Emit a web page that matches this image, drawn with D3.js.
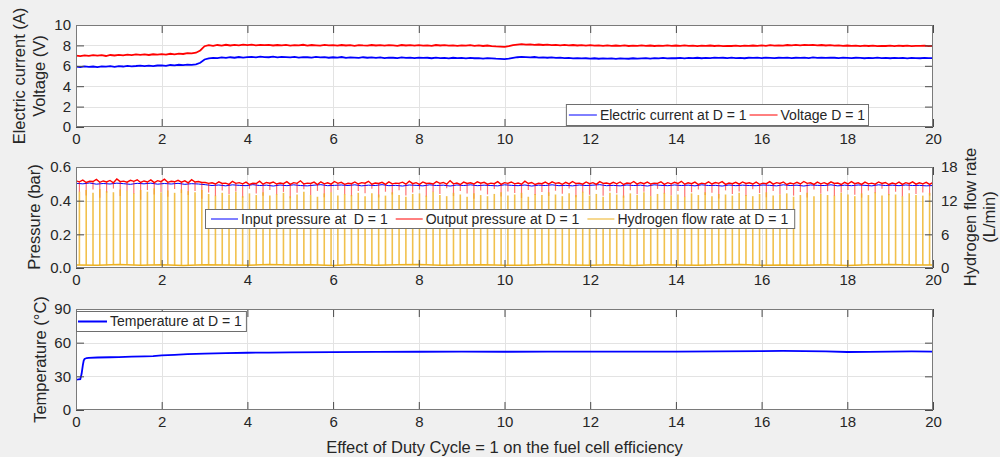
<!DOCTYPE html>
<html><head><meta charset="utf-8">
<script src="https://cdn.jsdelivr.net/npm/d3@7"></script>
<style>
body{margin:0;background:#f0f0f0}
svg{display:block}
text{font-family:"Liberation Sans",Arial,sans-serif;fill:#262626}
</style></head><body>
<svg id="c" width="1000" height="457"></svg>
<script>
// ---------- data ----------
const xTicks = [0,2,4,6,8,10,12,14,16,18,20];
const topTicks = [0,2,4,6,8,10];
const pressureTicks = [0,0.2,0.4,0.6];
const flowTicks = [0,6,12,18];
const tempTicks = [0,30,60,90];

// electric current & voltage, sampled every 0.1 s from 0 to 20 s
const sampleStep = 0.1;
const current = [
5.92,5.88,5.95,5.90,5.93,5.87,5.94,5.91,5.96,5.89,
5.97,5.93,6.00,5.95,5.98,6.02,5.96,6.01,5.97,6.03,
6.05,6.00,6.08,6.04,6.10,6.06,6.12,6.09,6.15,6.30,
6.62,6.72,6.78,6.75,6.82,6.77,6.84,6.79,6.86,6.81,
6.85,6.88,6.83,6.90,6.86,6.84,6.89,6.82,6.87,6.85,
6.83,6.88,6.81,6.86,6.84,6.80,6.87,6.82,6.85,6.79,
6.84,6.80,6.86,6.78,6.83,6.81,6.77,6.84,6.79,6.82,
6.78,6.83,6.76,6.81,6.79,6.75,6.82,6.77,6.80,6.76,
6.81,6.77,6.79,6.74,6.80,6.76,6.78,6.73,6.79,6.75,
6.77,6.72,6.78,6.74,6.76,6.71,6.75,6.73,6.70,6.68,
6.66,6.70,6.78,6.84,6.88,6.85,6.82,6.86,6.80,6.83,
6.79,6.82,6.77,6.80,6.75,6.78,6.73,6.76,6.72,6.74,
6.71,6.74,6.69,6.73,6.70,6.72,6.68,6.73,6.71,6.69,
6.74,6.70,6.73,6.76,6.71,6.75,6.72,6.77,6.73,6.76,
6.74,6.78,6.73,6.77,6.75,6.79,6.74,6.78,6.76,6.80,
6.77,6.79,6.75,6.80,6.76,6.78,6.74,6.79,6.77,6.81,
6.76,6.80,6.78,6.75,6.79,6.77,6.81,6.76,6.79,6.78,
6.80,6.76,6.82,6.78,6.80,6.77,6.81,6.79,6.76,6.80,
6.78,6.75,6.79,6.77,6.74,6.78,6.76,6.80,6.75,6.77,
6.74,6.78,6.75,6.77,6.73,6.78,6.76,6.74,6.77,6.75,6.76];
const voltage = [
7.00,6.95,7.03,6.97,7.05,6.99,7.04,6.96,7.06,7.01,
7.08,7.03,7.10,7.05,7.12,7.07,7.11,7.06,7.13,7.09,
7.14,7.10,7.18,7.13,7.20,7.16,7.24,7.21,7.28,7.50,
7.92,8.02,7.95,8.04,7.98,8.06,7.99,8.05,8.01,8.08,
8.03,8.07,8.00,8.05,8.02,8.06,7.99,8.04,8.01,8.05,
7.98,8.03,8.00,8.06,7.97,8.04,8.01,7.98,8.05,8.00,
8.03,7.97,8.04,7.99,8.02,7.96,8.03,8.00,7.98,8.04,
7.99,8.03,7.97,8.02,8.00,7.96,8.04,7.99,8.02,7.97,
8.03,7.98,8.01,7.96,8.04,7.99,8.02,7.97,8.00,7.95,
8.01,7.97,8.03,7.96,8.00,7.94,7.99,7.93,7.90,7.88,
7.86,7.92,8.02,8.08,8.12,8.07,8.10,8.05,8.09,8.04,
8.07,8.02,8.06,8.01,8.05,8.00,8.04,7.99,8.03,7.98,
8.02,7.97,8.01,7.96,8.00,7.95,7.99,7.96,8.00,7.94,
7.98,7.95,8.00,7.96,7.99,7.94,7.98,7.96,8.01,7.95,
7.99,7.96,8.00,7.95,7.98,7.93,7.97,7.95,7.99,7.94,
7.97,7.92,7.96,7.94,7.98,7.93,7.97,7.95,7.99,7.96,
8.00,7.96,8.02,7.97,8.01,7.98,8.04,8.00,8.05,8.01,
8.06,8.02,8.05,8.00,8.04,7.99,8.02,7.97,8.01,7.96,
7.99,7.95,7.98,7.93,7.97,7.94,7.98,7.92,7.96,7.94,
7.97,7.93,7.98,7.94,7.97,7.92,7.96,7.95,7.98,7.93,7.96];

// pressures: 126 hydrogen pulses over 20 s; between-pulse samples at k*period (127 values)
const pulseCount = 126;
const pressureOutBetween = [
.518,.522,.515,.526,.517,.520,.529,.516,.521,.524,
.517,.523,.519,.528,.515,.521,.518,.525,.514,.508,
.506,.512,.504,.515,.507,.510,.503,.516,.508,.511,
.505,.513,.507,.518,.504,.510,.512,.506,.514,.509,
.503,.511,.507,.515,.505,.509,.512,.504,.510,.516,
.507,.511,.504,.513,.508,.519,.505,.510,.506,.512,
.509,.504,.513,.507,.511,.505,.516,.508,.503,.510,
.512,.506,.509,.514,.504,.511,.507,.513,.505,.509,
.511,.505,.514,.508,.510,.504,.512,.507,.509,.515,
.506,.510,.504,.512,.508,.513,.505,.509,.511,.506,
.510,.504,.513,.507,.511,.505,.509,.514,.506,.510,
.507,.512,.505,.509,.513,.506,.510,.504,.511,.508,
.505,.510,.507,.512,.506,.509,.508];
const pressureOutAtPulse = [
.512,.508,.514,.509,.511,.506,.513,.510,.515,.508,
.511,.507,.513,.509,.512,.510,.506,.511,.508,.503,
.499,.502,.497,.503,.500,.496,.502,.498,.504,.499,
.501,.497,.503,.499,.502,.496,.500,.498,.503,.497,
.501,.499,.504,.498,.502,.497,.500,.503,.498,.501,
.497,.502,.499,.503,.498,.500,.496,.502,.499,.504,
.498,.501,.497,.503,.500,.498,.502,.496,.501,.499,
.503,.497,.500,.502,.498,.501,.497,.503,.499,.500,
.496,.502,.498,.501,.499,.503,.497,.500,.502,.498,
.501,.496,.500,.499,.503,.497,.501,.498,.502,.499,
.497,.501,.498,.502,.496,.500,.499,.503,.497,.500,
.498,.502,.496,.499,.501,.497,.500,.498,.502,.496,
.499,.497,.501,.498,.500,.497];
const pressureOutDip = [
.452,.431,.466,.418,.447,.472,.428,.459,.441,.405,
.463,.437,.451,.424,.469,.445,.433,.458,.412,.448,
.427,.461,.439,.455,.418,.470,.442,.429,.464,.436,
.452,.415,.447,.468,.433,.458,.421,.449,.463,.438,
.426,.457,.444,.471,.419,.453,.436,.462,.430,.448,
.466,.424,.451,.439,.474,.428,.457,.443,.411,.460,
.437,.469,.425,.454,.446,.416,.463,.434,.452,.427,
.459,.441,.472,.420,.448,.435,.465,.429,.456,.444,
.417,.462,.438,.453,.426,.470,.443,.431,.458,.422,
.450,.466,.434,.447,.413,.461,.439,.455,.428,.468,
.445,.421,.457,.436,.464,.430,.452,.419,.466,.441,
.456,.427,.449,.463,.435,.418,.460,.444,.471,.432,
.453,.425,.462,.439,.448,.430];
const pressureIn = [
.503,.500,.505,.498,.502,.499,.504,.501,.497,.503,
.500,.504,.498,.502,.499,.503,.497,.501,.499,.495,
.490,.493,.488,.494,.491,.489,.495,.490,.492,.487,
.493,.489,.494,.490,.488,.492,.495,.489,.491,.493,
.490,.494,.488,.492,.490,.495,.489,.491,.487,.493,
.491,.488,.494,.490,.492,.487,.493,.490,.494,.489,
.492,.490,.488,.494,.491,.489,.493,.487,.492,.490,
.494,.489,.491,.488,.493,.490,.492,.495,.489,.491,
.488,.493,.490,.492,.487,.494,.491,.489,.493,.490,
.492,.488,.494,.490,.491,.487,.493,.489,.492,.490,
.489,.493,.491,.488,.494,.490,.492,.487,.493,.491,
.490,.494,.488,.492,.489,.493,.491,.488,.494,.490,
.492,.489,.493,.490,.491,.488,.490];
// hydrogen flow rate (L/min): pulse peaks and baseline every 0.5 s
const hydrogenPeak = [
13.6,13.9,13.4,14.1,13.7,13.5,14.0,13.8,13.3,13.9,
13.6,14.2,13.5,13.8,13.4,14.0,13.7,13.5,13.9,13.2,
12.9,13.4,13.1,13.6,12.8,13.3,13.0,13.5,12.9,13.2,
13.4,12.8,13.1,13.6,13.0,12.7,13.3,13.5,12.9,13.2,
13.0,13.4,12.8,13.3,13.1,12.9,13.5,13.0,12.7,13.2,
13.3,12.9,13.6,13.0,12.8,13.4,13.1,12.7,13.3,13.0,
12.8,13.2,13.5,12.9,13.1,13.4,12.7,13.2,13.0,13.5,
13.1,12.8,13.3,13.0,13.6,12.9,13.2,12.7,13.4,13.1,
12.9,13.3,13.0,13.5,12.8,13.2,13.4,12.9,13.1,12.7,
13.3,13.0,13.5,12.8,13.2,13.1,12.9,13.4,13.0,12.8,
13.2,13.5,12.9,13.1,13.3,12.7,13.0,13.4,12.8,13.2,
13.0,12.9,13.4,13.1,12.8,13.3,13.0,13.5,12.9,13.2,
13.1,12.8,13.3,13.0,12.9,13.4];
const hydrogenBaseStep = 0.5;
const hydrogenBase = [.55,.48,.62,.51,.58,.45,.60,.53,.49,.64,.52,.57,.46,.61,.50,.56,.63,.48,.54,.59,.51,.47,.62,.55,.50,.58,.45,.60,.53,.49,.57,.62,.48,.55,.51,.59,.46,.56,.61,.52,.54];

// temperature
const tempTimes = [0,0.05,0.1,0.13,0.16,0.18,0.2,0.25,0.3,0.5,0.8,1.0,1.3,1.6,1.8,2.0,2.3,2.6,3.0,3.5,4.0,4.5,5.0,6.0,7.0,8.0,9.0,10.0,11.0,12.0,13.0,14.0,15.0,16.0,16.5,17.0,17.5,18.0,18.5,19.0,19.5,20.0];
const tempValues = [27,27.2,27.5,32,40,44,45.5,46.3,46.5,46.8,47,47.2,47.5,47.8,48,48.6,49.2,49.8,50.3,50.7,51,51.2,51.4,51.6,51.8,51.9,52,51.9,52,52.1,52,52.1,52.2,52.5,52.7,52.5,52.2,51.7,51.8,52,52.2,52.1];

// ---------- drawing ----------
const svg = d3.select('#c');
const L = 76, R = 933;
const x = d3.scaleLinear([0,20],[L,R]);
const TICK_FS = 15, LABEL_FS = 16.5, LEG_FS = 14;
const AX = '#4a4a4a', GRID = '#e3e3e3';

let clipId = 0;
function panel(top, bottom, yDom, yTicks){
  const y = d3.scaleLinear(yDom,[bottom, top]);
  const g = svg.append('g');
  g.append('rect').attr('x',L).attr('y',top).attr('width',R-L).attr('height',bottom-top).attr('fill','#fff');
  g.selectAll('.gx').data(xTicks.slice(1,-1)).join('line')
    .attr('x1',d=>Math.round(x(d))+0.5).attr('x2',d=>Math.round(x(d))+0.5).attr('y1',top).attr('y2',bottom)
    .attr('stroke',GRID);
  g.selectAll('.gy').data(yTicks.slice(1,-1)).join('line')
    .attr('y1',d=>Math.round(y(d))+0.5).attr('y2',d=>Math.round(y(d))+0.5).attr('x1',L).attr('x2',R)
    .attr('stroke',GRID);
  const id = 'clip'+(clipId++);
  svg.append('clipPath').attr('id',id).append('rect').attr('x',L).attr('y',top).attr('width',R-L).attr('height',bottom-top);
  const data = svg.append('g').attr('clip-path',`url(#${id})`);
  return {y, top, bottom, data};
}
function styleAxis(sel){
  sel.select('.domain').remove();
  sel.selectAll('line').attr('stroke',AX);
  sel.selectAll('text').attr('font-size',TICK_FS).attr('font-family','"Liberation Sans",Arial,sans-serif').attr('fill','#262626');
  sel.attr('font-size',null).attr('font-family',null);
}
function frame(p, yTicks, fmt, rightAxis){
  const {y, top, bottom} = p;
  svg.append('g').attr('transform',`translate(0,${bottom})`)
    .call(d3.axisBottom(x).tickValues(xTicks).tickSize(-8).tickPadding(6).tickFormat(d3.format('d'))).call(styleAxis);
  svg.append('g').attr('transform',`translate(0,${top})`)
    .call(d3.axisTop(x).tickValues(xTicks).tickSize(-8).tickFormat('')).call(styleAxis);
  svg.append('g').attr('transform',`translate(${L},0)`)
    .call(d3.axisLeft(y).tickValues(yTicks).tickSize(-8).tickPadding(5).tickFormat(fmt)).call(styleAxis);
  if(rightAxis){
    svg.append('g').attr('transform',`translate(${R},0)`)
      .call(d3.axisRight(rightAxis.scale).tickValues(rightAxis.ticks).tickSize(-8).tickPadding(8).tickFormat(d3.format('d'))).call(styleAxis);
  } else {
    svg.append('g').attr('transform',`translate(${R},0)`)
      .call(d3.axisRight(y).tickValues(yTicks).tickSize(-8).tickFormat('')).call(styleAxis);
  }
  svg.append('rect').attr('x',L+0.5).attr('y',top+0.5).attr('width',R-L-1).attr('height',bottom-top-1)
    .attr('fill','none').attr('stroke','#7a7a7a');
}
function ylabel(text, bx, cy){
  svg.append('text').attr('transform',`translate(${bx},${cy}) rotate(-90)`)
    .attr('text-anchor','middle').attr('font-size',LABEL_FS).text(text);
}
function legend(items, opt){
  const g = svg.append('g');
  const box = g.append('rect').attr('fill','#fff').attr('stroke','#6e6e6e');
  let cx = opt.padL;
  const parts = [];
  items.forEach((it,i)=>{
    const ln = g.append('line').attr('stroke',it.color).attr('stroke-width',it.w||1);
    const t = g.append('text').attr('font-size',LEG_FS).attr('dy','0.35em').text(it.label);
    const tw = t.node().getComputedTextLength();
    parts.push({ln,t,x:cx});
    cx += opt.lineLen + 3 + tw + (i<items.length-1 ? opt.gap : opt.padR);
  });
  const W = cx;
  const x0 = opt.anchor==='right' ? opt.x - W : opt.x;
  const ym = opt.y + opt.h/2;
  box.attr('x',x0+0.5).attr('y',opt.y+0.5).attr('width',W).attr('height',opt.h);
  parts.forEach(p=>{
    p.ln.attr('x1',x0+p.x).attr('x2',x0+p.x+opt.lineLen).attr('y1',ym+0.5).attr('y2',ym+0.5);
    p.t.attr('x',x0+p.x+opt.lineLen+3).attr('y',ym+0.5);
  });
}

// ---- top panel ----
const p1 = panel(25,127,[0,10],topTicks);
const line1 = d3.line().x((d,i)=>x(i*sampleStep)).y(d=>p1.y(d));
p1.data.append('path').attr('d',line1(current)).attr('fill','none').attr('stroke','#0000ff').attr('stroke-width',1.8);
p1.data.append('path').attr('d',line1(voltage)).attr('fill','none').attr('stroke','#ff0000').attr('stroke-width',1.8);
frame(p1, topTicks, d3.format('d'));
legend([{label:'Electric current at D = 1',color:'#0000ff'},{label:'Voltage D = 1',color:'#ff0000'}],
  {anchor:'right',x:868,y:104,h:21,padL:3,padR:3,gap:3,lineLen:28});
ylabel('Electric current (A)',25,76);
ylabel('Voltage (V)',45,76);

// ---- middle panel ----
const p2 = panel(167,268,[0,0.6],pressureTicks);
const yR = d3.scaleLinear([0,18],[268,167]);
const period = 20/pulseCount;
const pulseT = i => (i+0.5)*period;
const inLine = d3.line().x((d,k)=>x(k*period)).y(d=>p2.y(d));
p2.data.append('path').attr('d',inLine(pressureIn)).attr('fill','none').attr('stroke','#0000ff').attr('stroke-width',1);
const outPts = [];
pressureOutBetween.forEach((v,k)=>{
  outPts.push([k*period, v]);
  if(k<pulseCount) outPts.push([pulseT(k), pressureOutAtPulse[k]]);
});
p2.data.append('path').attr('d',d3.line().x(d=>x(d[0])).y(d=>p2.y(d[1]))(outPts))
  .attr('fill','none').attr('stroke','#ff0000').attr('stroke-width',1.4);
p2.data.selectAll('.dip').data(pressureOutDip).join('line')
  .attr('x1',(d,i)=>x(pulseT(i))).attr('x2',(d,i)=>x(pulseT(i)))
  .attr('y1',(d,i)=>p2.y(pressureOutAtPulse[i])).attr('y2',d=>p2.y(d))
  .attr('stroke','#ff0000').attr('stroke-opacity',0.55).attr('stroke-width',1.2);
const baseLine = d3.line().x((d,k)=>x(k*hydrogenBaseStep)).y(d=>yR(d));
p2.data.append('path').attr('d',baseLine(hydrogenBase)).attr('fill','none').attr('stroke','#EDB120').attr('stroke-width',1.5);
p2.data.selectAll('.spike').data(hydrogenPeak).join('line')
  .attr('x1',(d,i)=>x(pulseT(i))).attr('x2',(d,i)=>x(pulseT(i)))
  .attr('y1',(d,i)=>yR(hydrogenBase[Math.round(pulseT(i)/hydrogenBaseStep)]))
  .attr('y2',d=>yR(d))
  .attr('stroke','#EDB120').attr('stroke-opacity',0.8).attr('stroke-width',1.6);
frame(p2, pressureTicks, d3.format('.1f'), {scale:yR, ticks:flowTicks});
legend([{label:'Input pressure at \u00a0D = 1',color:'#0000ff'},{label:'Output pressure at D = 1',color:'#ff0000'},{label:'Hydrogen flow rate at D = 1',color:'#EDB120'}],
  {anchor:'left',x:205,y:209,h:19,padL:6,padR:6,gap:8,lineLen:27});
ylabel('Pressure (bar)',40,217);
ylabel('Hydrogen flow rate',976,217);
ylabel('(L/min)',995,217);

// ---- bottom panel ----
const p3 = panel(309,410,[0,90],tempTicks);
p3.data.append('path').attr('d',d3.line().x((d,i)=>x(tempTimes[i])).y(d=>p3.y(d))(tempValues))
  .attr('fill','none').attr('stroke','#0000ff').attr('stroke-width',1.8);
frame(p3, tempTicks, d3.format('d'));
legend([{label:'Temperature at D = 1',color:'#0000ff',w:2}],
  {anchor:'left',x:76,y:311,h:20,padL:2,padR:4,gap:6,lineLen:29});
ylabel('Temperature (\u00b0C)',46,359.5);

svg.append('text').attr('x',504.5).attr('y',453).attr('text-anchor','middle').attr('font-size',LABEL_FS)
  .text('Effect of Duty Cycle = 1 on the fuel cell efficiency');
</script>
</body></html>
